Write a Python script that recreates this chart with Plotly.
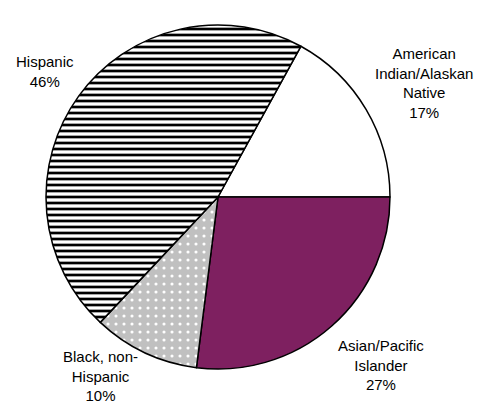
import plotly.graph_objects as go

labels = ["American Indian/Alaskan Native", "Asian/Pacific Islander", "Black, non-Hispanic", "Hispanic"]
label_text = ["American<br>Indian/Alaskan<br>Native", "Asian/Pacific<br>Islander", "Black, non-<br>Hispanic", "Hispanic"]
values = [17, 27, 10, 46]

fills = ["#FFFFFF", "#7E2060", "#C0C0C0", "#FFFFFF"]
pattern_shapes = ["", "", ".", "-"]
pattern_fg = ["#000000", "#000000", "#FFFFFF", "#000000"]

# page body has an 8px margin; figure occupies the remaining window area
OFF = 8
W, H = 488 - OFF, 403 - OFF
cx, cy, r = 218 - OFF, 197 - OFF, 172

fig = go.Figure(go.Pie(
    labels=labels,
    values=values,
    sort=False,
    direction="clockwise",
    rotation=28.8,
    textinfo="none",
    hoverinfo="label+percent",
    marker=dict(
        colors=fills,
        line=dict(color="#000000", width=1.5),
        pattern=dict(shape=pattern_shapes, fgcolor=pattern_fg, bgcolor=fills,
                     size=[8, 8, 8, 6], solidity=[0.3, 0.3, 0.12, 0.45]),
    ),
    domain=dict(x=[(cx - r) / W, (cx + r) / W], y=[(H - cy - r) / H, (H - cy + r) / H]),
    showlegend=False,
))

# label positions (pixel centers of text blocks in the window)
label_pos = [(424, 83), (381, 365), (100, 376), (45, 72)]
total = sum(values)
for txt, v, (px, py) in zip(label_text, values, label_pos):
    fig.add_annotation(
        x=(px - OFF) / W, y=1 - (py - OFF) / H, xref="paper", yref="paper",
        text=f"{txt}<br>{round(v / total * 100)}%",
        showarrow=False, align="center",
        font=dict(family="Liberation Sans, Arial, sans-serif", size=15, color="#000000"),
        xanchor="center", yanchor="middle",
    )

fig.update_layout(
    width=W, height=H,
    margin=dict(l=0, r=0, t=0, b=0),
    paper_bgcolor="#FFFFFF", plot_bgcolor="#FFFFFF",
)

fig.write_html("out.html")
